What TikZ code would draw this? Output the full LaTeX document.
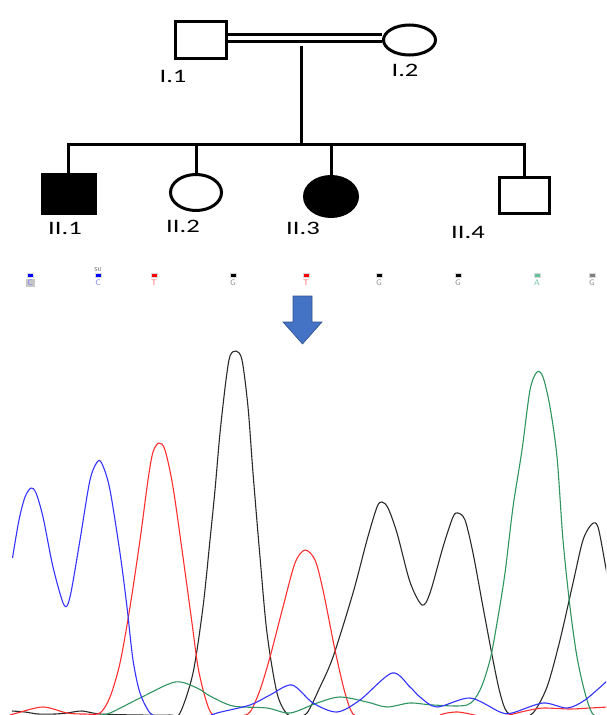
\documentclass[tikz,border=0pt]{standalone}
\usepackage{fontspec}
\usepackage{graphicx}
\setmainfont{Carlito}
\usetikzlibrary{shapes.geometric}
\definecolor{arrowblue}{HTML}{4472C4}
\definecolor{arrowedge}{HTML}{2F528F}
\definecolor{trblue}{HTML}{3333FF}
\definecolor{trred}{HTML}{FF2E2E}
\definecolor{trblack}{HTML}{2A2A2A}
\definecolor{trgreen}{HTML}{2E9460}
\definecolor{lblue}{HTML}{7F7FFF}
\definecolor{lred}{HTML}{FF6666}
\definecolor{lgreen}{HTML}{66C29A}
\definecolor{lgray}{HTML}{8A8A8A}
\newcommand\widelbl[1]{\scalebox{1.4}[1]{#1}}
\tikzset{
  pedline/.style={line width=3pt, black},
  male/.style={rectangle, draw=black, line width=3pt, inner sep=0pt},
  female/.style={ellipse, draw=black, line width=3pt, inner sep=0pt},
  lbl/.style={font=\fontsize{19}{19}\selectfont, text=black, inner sep=0pt},
  trace/.style={line width=1.1pt, line join=round},
  basebar/.style={rectangle, draw=gray!30, line width=1pt, minimum width=6pt, minimum height=3.5pt, inner sep=0pt},
  baselet/.style={font=\fontsize{8}{8}\selectfont\sffamily, inner sep=0pt},
}
\begin{document}
\begin{tikzpicture}[x=1pt,y=-1pt]
\path[use as bounding box] (0,0) rectangle (606,715);

% ---------- pedigree ----------
\node[male, minimum width=51pt, minimum height=37pt] (I1) at (201,40) {};
\node[female, minimum width=52pt, minimum height=30pt] (I2) at (409.5,40) {};
\draw[line width=3.3pt, double=white, double distance=4pt]
  ([yshift=2pt]I1.east) -- ([yshift=2pt]I2.west);
\coordinate (mate) at (301,46);
\coordinate (sibL) at (69,144);
\coordinate (sibR) at (524.5,144);

\node[male, fill=black, minimum width=53pt, minimum height=39pt] (II1) at (68.5,194) {};
\node[female, minimum width=51pt, minimum height=36pt] (II2) at (196,192.5) {};
\node[female, fill=black, minimum width=53pt, minimum height=40pt] (II3) at (331,196.5) {};
\node[male, minimum width=50pt, minimum height=36pt] (II4) at (524.5,195.5) {};

\draw[pedline] (mate) -- (mate |- sibL);
\draw[pedline, line join=miter] (II1.north) -- (II1.north |- sibL) -- (II4.north |- sibR) -- (II4.north);
\draw[pedline] (II2.north |- sibL) -- (II2.north);
\draw[pedline] (II3.north |- sibL) -- (II3.north);

\node[lbl] (lI1) at (173,76) {\widelbl{I.1}};
\node[lbl] (lI2) at (405,70) {\widelbl{I.2}};
\node[lbl] (lII1) at (65,228) {\widelbl{II.1}};
\node[lbl] (lII2) at (183,226) {\widelbl{II.2}};
\node[lbl] (lII3) at (303,228) {\widelbl{II.3}};
\node[lbl] (lII4) at (468,232) {\widelbl{II.4}};

% ---------- base calls ----------
\fill[gray!45] (25.5,278.5) rectangle (35,286.5);
\node[basebar, fill=blue]   (b1) at (30,275.5) {};
\node[basebar, fill=blue]   (b2) at (98,275.5) {};
\node[basebar, fill=red]    (b3) at (154,275.5) {};
\node[basebar, fill=black]  (b4) at (233,275.5) {};
\node[basebar, fill=red]    (b5) at (306,275.5) {};
\node[basebar, fill=black]  (b6) at (379,275.5) {};
\node[basebar, fill=black]  (b7) at (458,275.5) {};
\node[basebar, fill=lgreen] (b8) at (537,275.5) {};
\node[basebar, fill=gray]   (b9) at (592,275.5) {};
\node[baselet, text=lblue]  (c1) at (30,282.5) {C};
\node[baselet, text=lblue]  (c2) at (98,282.5) {C};
\node[baselet, text=lred]   (c3) at (154,282.5) {T};
\node[baselet, text=lgray]  (c4) at (233,282.5) {G};
\node[baselet, text=lred]   (c5) at (306,282.5) {T};
\node[baselet, text=lgray]  (c6) at (379,282.5) {G};
\node[baselet, text=lgray]  (c7) at (458,282.5) {G};
\node[baselet, text=lgreen] (c8) at (537,282.5) {A};
\node[baselet, text=lgray]  (c9) at (592,282.5) {G};
\node[baselet, font=\fontsize{5.5}{5.5}\selectfont\sffamily, text=black!70] (su) at (98,269.5) {SU};

% ---------- arrow ----------
\fill[arrowblue, draw=arrowedge, line width=0.6pt]
  (293,296) -- (312,296) -- (312,322) -- (322,322) -- (302.5,344) -- (283,322) -- (293,322) -- cycle;

% ---------- chromatogram ----------
\begin{scope}
\clip (0,300) rectangle (606,714.5);
% black
\draw[trace, trblack] plot[smooth, tension=0.5] coordinates {
 (12,711) (25,712) (38,714) (55,714) (67,713) (82,711) (100,714) (140,715) (170,715)
 (180,713) (193,673) (203,607) (210,540) (215,490) (220,433) (226,380) (230,356) (236,351) (242,360)
 (248,407) (253,473) (260,557) (267,633) (277,693) (287,714) (297,716)
 (307,713) (320,687) (333,657) (353,593) (367,540) (377,507) (382,502) (388,508) (397,533)
 (410,582) (422,605) (430,593) (443,547) (453,517) (458,513) (465,520) (473,553) (483,607)
 (493,660) (500,693) (507,712) (520,717)
 (533,713) (547,687) (560,640) (573,583) (583,540) (592,524) (598,527) (605,563) (608,580)};
% red
\draw[trace, trred] plot[smooth, tension=0.5] coordinates {
 (10,715) (17,713) (43,707) (67,713) (85,714)
 (100,713) (110,697) (120,663) (130,607) (140,540) (148,480) (153,452) (159,443) (165,450)
 (173,487) (183,557) (192,623) (198,667) (205,697) (212,714) (225,717) (240,716)
 (250,712) (260,690) (270,657) (283,607) (295,563) (305,550) (315,560) (323,590) (335,650)
 (345,693) (353,714) (365,718)};
\draw[trace, trred] plot[smooth, tension=0.5] coordinates {
 (440,715) (447,713) (458,712) (470,714) (478,716)};
\draw[trace, trred] plot[smooth, tension=0.5] coordinates {
 (505,716) (517,713) (530,710) (544,708) (570,709) (590,708) (608,707)};
% green
\draw[trace, trgreen] plot[smooth, tension=0.5] coordinates {
 (95,716) (110,713) (140,698) (175,682) (197,688) (210,696) (233,706) (267,708) (290,713)
 (317,703) (340,697) (367,702) (387,707) (410,703) (433,705) (467,705) (480,690) (490,660)
 (497,623) (505,573) (513,507) (522,450) (530,390) (537,372) (543,377) (550,407) (557,457)
 (563,540) (570,607) (577,657) (585,693) (592,713) (600,718)};
% blue
\draw[trace, trblue] plot[smooth, tension=0.5] coordinates {
 (12.5,558) (19,520) (25,497) (31,488) (36,493) (43,517) (53,567) (64,605) (70,597) (80,540)
 (90,480) (98,461) (103,466) (110,490) (120,553) (127,607) (133,660) (140,693) (150,713) (160,717)};
\draw[trace, trblue] plot[smooth, tension=0.5] coordinates {
 (205,718) (217,713) (250,705) (270,695) (292,685) (313,703) (337,712) (360,700) (392,673)
 (410,687) (420,697) (437,707) (470,698) (500,712) (512,713) (543,703) (567,708) (585,700) (608,680)};
\end{scope}
\end{tikzpicture}
\end{document}
